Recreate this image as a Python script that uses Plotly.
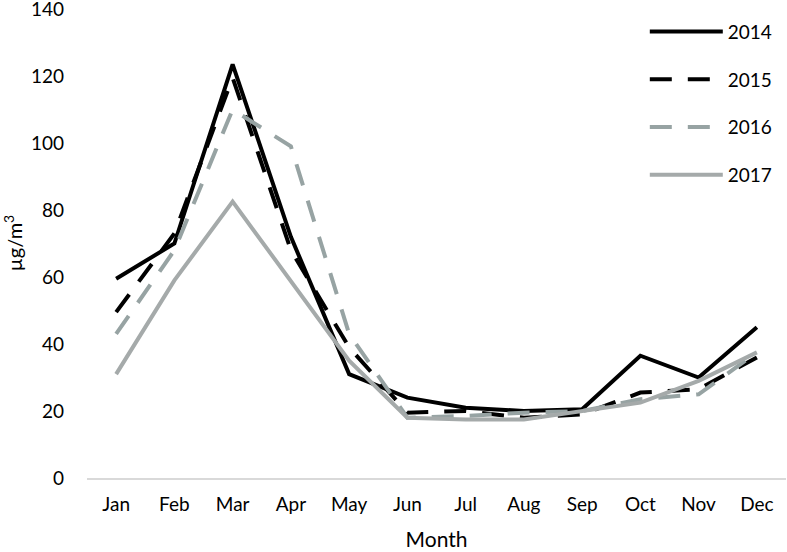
import plotly.graph_objects as go

months = ["Jan", "Feb", "Mar", "Apr", "May", "Jun", "Jul", "Aug", "Sep", "Oct", "Nov", "Dec"]
years = ["2014", "2015", "2016", "2017"]

pm_2014 = [59.5, 70, 123.5, 72, 31, 24, 21, 20, 20.5, 36.5, 30, 45]
pm_2015 = [49.5, 73, 119.5, 68, 39, 19.5, 20, 18, 19, 25.5, 26.5, 36]
pm_2016 = [43, 68, 110, 99, 43, 18, 18.5, 19.5, 20, 23.5, 25, 37.5]
pm_2017 = [31, 59, 82.5, 59, 35, 18, 17.5, 17.5, 20, 22.5, 29, 37.5]

y_ticks = [0, 20, 40, 60, 80, 100, 120, 140]

series = [pm_2014, pm_2015, pm_2016, pm_2017]
colors = ["#000000", "#000000", "#97A3A3", "#A5AAAA"]
dashes = ["solid", "22px,16px", "22px,16px", "solid"]

FONT = "Lato"

fig = go.Figure()
for name, vals, col, dash in zip(years, series, colors, dashes):
    fig.add_trace(
        go.Scatter(
            x=months,
            y=vals,
            name=name,
            legendgroup=name,
            mode="lines",
            line=dict(color=col, width=4, dash=dash),
        )
    )

fig.update_layout(
    width=787,
    height=552,
    paper_bgcolor="white",
    plot_bgcolor="white",
    font=dict(family=FONT, size=19, color="#000000"),
    margin=dict(l=87, r=1, t=8, b=74, autoexpand=False),
    showlegend=True,
    legend=dict(
        x=0.798, y=0.99, xanchor="left", yanchor="top",
        font=dict(size=19),
        itemwidth=73,
        tracegroupgap=20,
        bgcolor="rgba(0,0,0,0)",
    ),
    xaxis=dict(
        title=dict(text="Month", font=dict(size=21), standoff=19),
        range=[-0.5, 11.5],
        automargin=False,
        showgrid=False,
        showline=True,
        linecolor="#D9D9D9",
        linewidth=1.5,
        ticks="",
        zeroline=False,
        ticklabelstandoff=8,
    ),
    yaxis=dict(
        title=dict(text="µg/m<sup>3</sup>", font=dict(size=20), standoff=34),
        range=[0, 140.3],
        tickvals=y_ticks,
        automargin=False,
        showgrid=False,
        showline=False,
        zeroline=False,
        ticks="",
        ticklabelstandoff=22,
        ticklabeloverflow="allow",
    ),
)

# drop the browser's default 8px body margin so the figure fills the window
fig.write_html(
    "out.html",
    config={"displayModeBar": False},
    post_script="document.body.style.margin='0';",
)
